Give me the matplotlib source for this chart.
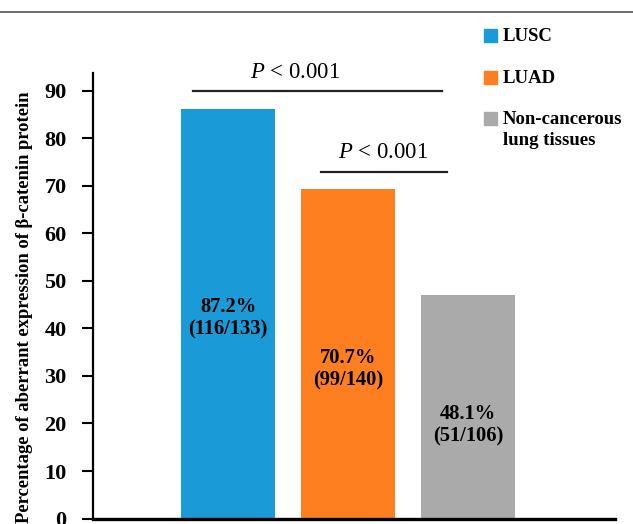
import matplotlib
matplotlib.use("Agg")
import matplotlib.pyplot as plt
from matplotlib.lines import Line2D
from matplotlib.patches import Rectangle

# ── data ────────────────────────────────────────────────────────────────────
groups      = ["LUSC", "LUAD", "Non-cancerous\nlung tissues"]
heights     = [86.1, 69.4, 47.0]           # bar heights as drawn
pct_labels  = ["87.2%", "70.7%", "48.1%"]
frac_labels = ["(116/133)", "(99/140)", "(51/106)"]
label_y     = [42.1, 31.4, 19.7]           # where the value text sits
yticks      = [0, 10, 20, 30, 40, 50, 60, 70, 80, 90]

# significance brackets: (x0, x1, y) and text centre x
sig_lines  = [(0.708, 2.783, 89.9), (1.772, 2.825, 72.9)]
sig_text_x = [1.558, 2.29]
sig_text   = ["$\\it{P}$ < 0.001", "$\\it{P}$ < 0.001"]

colors = ["#1a9bd7", "#fe7f1f", "#aaaaaa"]

plt.rcParams["font.family"] = ["Liberation Serif", "DejaVu Serif"]
plt.rcParams["mathtext.fontset"] = "custom"
plt.rcParams["mathtext.it"] = "Liberation Serif:italic"
plt.rcParams["mathtext.rm"] = "Liberation Serif"

fig = plt.figure(figsize=(6.33, 5.24), dpi=100)
ax = fig.add_axes([0.147, 0.0103, 0.8247, 0.8504])

x = [1, 2, 3]
ax.bar(x, heights, width=0.78, color=colors)

for xi, p, f, yy in zip(x, pct_labels, frac_labels, label_y):
    ax.text(xi, yy, p + "\n" + f, ha="center", va="center",
            fontsize=14.8, fontweight="bold", linespacing=1.15)

for (x0, x1, yl), tx, t in zip(sig_lines, sig_text_x, sig_text):
    ax.plot([x0, x1], [yl, yl], color="#222222", lw=1.6, clip_on=False)
    ax.text(tx, yl + 1.8, t, ha="center", va="bottom", fontsize=16.4)

ax.set_xlim(-0.125, 4.225)
ax.set_ylim(0, 93.7)
ax.set_xticks([])
ax.set_yticks(yticks)
ax.set_yticklabels([str(v) for v in yticks], fontsize=16, fontweight="bold")
ax.tick_params(axis="y", length=8, width=1.5, pad=11)

for s in ("top", "right"):
    ax.spines[s].set_visible(False)
ax.spines["left"].set_linewidth(1.6)
ax.spines["bottom"].set_linewidth(2.4)

fig.text(25 / 633, 0.414, "Percentage of aberrant expression of β-catenin protein",
         rotation=90, ha="center", va="center", fontsize=13.4, fontweight="bold")

# legend drawn by hand so the square sits on the first text line
leg_y = [35.5, 77, 118.5]
for name, c, yp in zip(groups, colors, leg_y):
    fy = 1 - yp / 524
    fig.add_artist(Rectangle((484 / 633, fy - 6.5 / 524), 13 / 633, 13 / 524,
                             transform=fig.transFigure, color=c))
    fig.text(503 / 633, fy + 7 / 524, name, ha="left", va="top",
             fontsize=13.5, fontweight="bold", linespacing=1.3)

# thin rule across the top
fig.add_artist(Line2D([0, 1], [1 - 12 / 524, 1 - 12 / 524],
                      transform=fig.transFigure, color="#555555", lw=1.2))

plt.savefig("out.png", dpi=100)
